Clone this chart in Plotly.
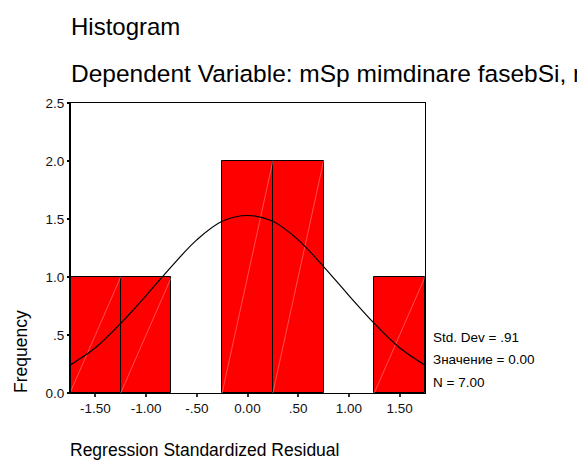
import plotly.graph_objects as go

# ---- data ----
BIN_CENTERS = [-1.5, -1.0, -0.5, 0.0, 0.5, 1.0, 1.5]
FREQUENCY = [1, 1, 0, 2, 2, 0, 1]
BIN_WIDTH = 0.5

CURVE_X = [-1.75, -1.5, -1.25, -1.0, -0.75, -0.5, -0.25, 0.0,
           0.25, 0.5, 0.75, 1.0, 1.25, 1.5, 1.75]
CURVE_Y = [0.24, 0.39, 0.60, 0.84, 1.09, 1.32, 1.48, 1.53,
           1.48, 1.32, 1.09, 0.84, 0.60, 0.39, 0.24]

X_TICKS = [-1.5, -1.0, -0.5, 0.0, 0.5, 1.0, 1.5]
X_TICK_TEXT = ["-1.50", "-1.00", "-.50", "0.00", ".50", "1.00", "1.50"]
Y_TICKS = [0.0, 0.5, 1.0, 1.5, 2.0, 2.5]
Y_TICK_TEXT = ["0.0", ".5", "1.0", "1.5", "2.0", "2.5"]

TITLE = "Histogram"
SUBTITLE = "Dependent Variable: mSp mimdinare fasebSi, m"
X_TITLE = "Regression Standardized Residual"
Y_TITLE = "Frequency"
STATS = ["Std. Dev = .91", "Значение = 0.00", "N = 7.00"]

FONT = "Liberation Sans, Arial, sans-serif"

# keep only non-empty bins
bx = [c for c, f in zip(BIN_CENTERS, FREQUENCY) if f > 0]
by = [f for f in FREQUENCY if f > 0]

fig = go.Figure()
fig.add_trace(go.Bar(
    x=bx, y=by, width=BIN_WIDTH,
    marker=dict(color="#ff0000", line=dict(color="black", width=1)),
    hoverinfo="skip", showlegend=False,
))

# faint diagonal rendering lines inside each bar (bottom-left to top-right)
dx, dy = [], []
for c, f in zip(bx, by):
    dx += [c - BIN_WIDTH / 2, c + BIN_WIDTH / 2, None]
    dy += [0, f, None]
fig.add_trace(go.Scatter(
    x=dx, y=dy, mode="lines",
    line=dict(color="rgba(255,190,190,0.7)", width=0.6),
    hoverinfo="skip", showlegend=False,
))

fig.add_trace(go.Scatter(
    x=CURVE_X, y=CURVE_Y, mode="lines",
    line=dict(color="black", width=1.2, shape="spline", smoothing=1.0),
    hoverinfo="skip", showlegend=False,
))

# page has an 8px body margin; figure is sized/shifted to compensate
OFF = 8
W, H = 585 - OFF, 460 - OFF
L, T = 70 - OFF, 103 - OFF
R = W - (425 - OFF)
B = H - (393 - OFF)
PW, PH = W - L - R, H - T - B


def px(x):
    return (x - OFF - L) / PW


def py(y):
    return (H - B - (y - OFF)) / PH


ann = [
    dict(text=TITLE, x=px(69), y=py(26), xanchor="left", yanchor="middle",
         font=dict(size=24, color="black", family=FONT)),
    dict(text=SUBTITLE, x=px(69), y=py(74), xanchor="left", yanchor="middle",
         font=dict(size=24.5, color="black", family=FONT)),
    dict(text=Y_TITLE, x=px(21), y=py(351), xanchor="center", yanchor="middle",
         textangle=-90, font=dict(size=17.5, color="black", family=FONT)),
    dict(text=X_TITLE, x=px(68), y=py(450), xanchor="left", yanchor="middle",
         font=dict(size=17.5, color="black", family=FONT)),
]
for s, yy in zip(STATS, [337, 359, 382]):
    ann.append(dict(text=s, x=px(431), y=py(yy), xanchor="left", yanchor="middle",
                    font=dict(size=13.5, color="black", family=FONT)))
for a in ann:
    a.update(xref="paper", yref="paper", showarrow=False)

fig.update_layout(
    width=W, height=H,
    margin=dict(l=L, r=R, t=T, b=B, pad=0),
    paper_bgcolor="white", plot_bgcolor="white",
    font=dict(family=FONT, color="black"),
    bargap=0,
    annotations=ann,
    shapes=[dict(type="line", xref="paper", yref="paper", x0=0, x1=0, y0=0, y1=1,
                 line=dict(color="black", width=2))],
)
fig.update_xaxes(
    range=[-1.75, 1.75], tickvals=X_TICKS, ticktext=X_TICK_TEXT,
    showgrid=False, zeroline=False,
    showline=True, linecolor="black", linewidth=1, mirror=True,
    ticks="outside", ticklen=3, tickwidth=2, tickcolor="#333",
    tickfont=dict(size=13.5, color="#111", family=FONT),
)
fig.update_yaxes(
    range=[0, 2.5], tickvals=Y_TICKS, ticktext=Y_TICK_TEXT,
    showgrid=False, zeroline=False,
    showline=True, linecolor="black", linewidth=1, mirror=True,
    ticks="outside", ticklen=2, tickwidth=2, tickcolor="black",
    tickfont=dict(size=13.5, color="#111", family=FONT),
)

fig.write_html("out.html")
